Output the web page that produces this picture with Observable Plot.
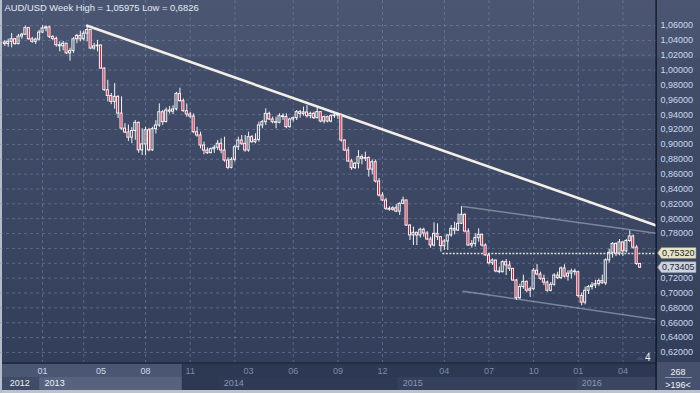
<!DOCTYPE html>
<html><head><meta charset="utf-8">
<script src="https://cdn.jsdelivr.net/npm/d3@7"></script>
<script src="https://cdn.jsdelivr.net/npm/@observablehq/plot@0.6"></script>
<style>
html,body{margin:0;padding:0;background:#3b4763;}
#chart svg{display:block}
</style></head><body><div id="chart"></div>
<script>
// ---- data (weekly AUD/USD candles, first week starting 2012-10-22) ----
const firstWeek = "2012-10-22";
const open  = [1.0371,1.0350,1.0380,1.0416,1.0350,1.0450,1.0475,1.0565,1.0415,1.0380,1.0410,1.0505,1.0560,1.0575,1.0447,1.0420,1.0335,1.0320,1.0355,1.0225,1.0255,1.0415,1.0460,1.0415,1.0490,1.0540,1.0290,1.0320,1.0330,1.0020,0.9729,0.9652,0.9572,0.9640,0.9415,0.9212,0.9160,0.9090,0.9180,0.9290,0.8920,0.9000,0.9190,0.8920,0.9205,0.9254,0.9433,0.9300,0.9456,0.9440,0.9470,0.9680,0.9582,0.9447,0.9402,0.9375,0.9164,0.9120,0.8985,0.8917,0.8882,0.8935,0.8954,0.9008,0.8917,0.8783,0.8684,0.8792,0.8962,0.9052,0.9008,0.8917,0.9097,0.9030,0.9060,0.9254,0.9299,0.9411,0.9335,0.9299,0.9290,0.9380,0.9368,0.9232,0.9335,0.9353,0.9434,0.9410,0.9430,0.9380,0.9411,0.9353,0.9434,0.9308,0.9367,0.9308,0.9380,0.9389,0.9398,0.9052,0.8918,0.8770,0.8680,0.8740,0.8828,0.8806,0.8818,0.8660,0.8760,0.8500,0.8312,0.8245,0.8133,0.8120,0.8140,0.8095,0.8200,0.8245,0.7908,0.7775,0.7810,0.7774,0.7850,0.7800,0.7720,0.7639,0.7796,0.7751,0.7630,0.7693,0.7774,0.7863,0.7840,0.7931,0.8052,0.7827,0.7639,0.7660,0.7738,0.7783,0.7639,0.7505,0.7400,0.7437,0.7290,0.7280,0.7415,0.7370,0.7325,0.7168,0.6930,0.7080,0.7150,0.7030,0.7050,0.7300,0.7250,0.7190,0.7140,0.7030,0.7110,0.7235,0.7200,0.7330,0.7220,0.7260,0.7290,0.7280,0.6960,0.6870,0.7030,0.7080,0.7100,0.7120,0.7160,0.7130,0.7440,0.7540,0.7660,0.7530,0.7680,0.7560,0.7700,0.7760,0.7610,0.7390];
const high  = [1.0398,1.0416,1.0492,1.0425,1.0480,1.0495,1.0590,1.0575,1.0440,1.0430,1.0535,1.0596,1.0595,1.0590,1.0460,1.0445,1.0380,1.0385,1.0360,1.0295,1.0435,1.0480,1.0525,1.0525,1.05975,1.0545,1.0360,1.0400,1.0340,1.0030,0.9863,0.9685,0.9818,0.9652,0.9640,0.9280,0.9260,0.9225,0.9320,0.9300,0.9210,0.9230,0.9215,0.9230,0.9320,0.9545,0.9455,0.9490,0.9510,0.9520,0.9700,0.9757,0.9610,0.9545,0.9432,0.9410,0.9231,0.9164,0.9030,0.8953,0.8953,0.8985,0.9052,0.9075,0.9097,0.8820,0.8820,0.8985,0.9097,0.9120,0.9120,0.9164,0.9120,0.9142,0.9299,0.9322,0.9479,0.9434,0.9367,0.9367,0.9411,0.9411,0.9411,0.9352,0.9367,0.9456,0.9456,0.9501,0.9523,0.9434,0.9434,0.9492,0.9440,0.9380,0.9380,0.9398,0.9411,0.9420,0.9400,0.9060,0.8960,0.8800,0.8760,0.8918,0.8860,0.8895,0.8830,0.8790,0.8790,0.8540,0.8350,0.8275,0.8160,0.8160,0.8190,0.8213,0.8290,0.8250,0.7920,0.7886,0.7818,0.7872,0.7872,0.7827,0.7751,0.7944,0.7930,0.7760,0.7720,0.7783,0.7908,0.7953,0.8065,0.8163,0.8065,0.7863,0.7706,0.7796,0.7863,0.7790,0.7661,0.7527,0.7460,0.7440,0.7348,0.7433,0.7451,0.7424,0.7330,0.7180,0.7120,0.7240,0.7160,0.7080,0.7330,0.7382,0.7280,0.7240,0.7160,0.7140,0.7260,0.7280,0.7350,0.7380,0.7300,0.7320,0.7320,0.7290,0.7000,0.7080,0.7100,0.7140,0.7170,0.7190,0.7240,0.7460,0.7590,0.7680,0.7675,0.7720,0.7690,0.7720,0.7836,0.7780,0.7640,0.7400];
const low   = [1.0317,1.0308,1.0300,1.0335,1.0340,1.0415,1.0470,1.0400,1.0360,1.0345,1.0390,1.0490,1.0515,1.0425,1.0395,1.0310,1.0245,1.0260,1.0210,1.0120,1.0225,1.0355,1.0380,1.0390,1.0380,1.0275,1.0268,1.0245,1.0010,0.9715,0.9572,0.9535,0.9473,0.9347,0.9190,0.9145,0.9040,0.9010,0.9055,0.8880,0.8850,0.8847,0.8900,0.8905,0.9140,0.9230,0.9255,0.9290,0.9410,0.9400,0.9450,0.9568,0.9433,0.9365,0.9344,0.9142,0.9097,0.8940,0.8860,0.8864,0.8873,0.8880,0.8918,0.8873,0.8760,0.8660,0.8670,0.8760,0.8918,0.8985,0.8895,0.8895,0.9016,0.9008,0.9030,0.9210,0.9254,0.9322,0.9277,0.9210,0.9277,0.9322,0.9210,0.9218,0.9300,0.9322,0.9353,0.9380,0.9353,0.9344,0.9335,0.9344,0.9290,0.9277,0.9290,0.9290,0.9350,0.9335,0.9030,0.8905,0.8760,0.8650,0.8660,0.8670,0.8725,0.8770,0.8560,0.8590,0.8480,0.8290,0.8230,0.8110,0.8100,0.8100,0.8080,0.8043,0.8190,0.7895,0.7706,0.7639,0.7639,0.7738,0.7751,0.7706,0.7603,0.7620,0.7706,0.7550,0.7572,0.7572,0.7751,0.7783,0.7827,0.7925,0.7810,0.7630,0.7603,0.7617,0.7684,0.7617,0.7497,0.7379,0.7370,0.7272,0.7258,0.7270,0.7235,0.7290,0.7155,0.6900,0.6910,0.7050,0.7000,0.6940,0.7040,0.7230,0.7170,0.7100,0.7010,0.7015,0.7090,0.7180,0.7180,0.7200,0.7160,0.7190,0.7230,0.6930,0.6826,0.6840,0.6980,0.7040,0.7060,0.7090,0.7120,0.7100,0.7400,0.7470,0.7490,0.7500,0.7490,0.7540,0.7680,0.7590,0.7370,0.7330];
const close = [1.0350,1.0380,1.0416,1.0350,1.0450,1.0475,1.0565,1.0415,1.0380,1.0410,1.0505,1.0560,1.0575,1.0447,1.0420,1.0335,1.0320,1.0355,1.0225,1.0255,1.0415,1.0460,1.0415,1.0490,1.0540,1.0290,1.0320,1.0330,1.0020,0.9729,0.9652,0.9572,0.9640,0.9415,0.9212,0.9160,0.9090,0.9180,0.9290,0.8920,0.9000,0.9190,0.8920,0.9205,0.9254,0.9433,0.9300,0.9456,0.9440,0.9470,0.9680,0.9582,0.9447,0.9402,0.9375,0.9164,0.9120,0.8985,0.8917,0.8882,0.8935,0.8954,0.9008,0.8917,0.8783,0.8684,0.8792,0.8962,0.9052,0.9008,0.8917,0.9097,0.9030,0.9060,0.9254,0.9299,0.9411,0.9335,0.9299,0.9290,0.9380,0.9368,0.9232,0.9335,0.9353,0.9434,0.9410,0.9430,0.9380,0.9411,0.9353,0.9434,0.9308,0.9367,0.9308,0.9380,0.9389,0.9398,0.9052,0.8918,0.8770,0.8680,0.8740,0.8828,0.8806,0.8818,0.8660,0.8760,0.8500,0.8312,0.8245,0.8133,0.8120,0.8140,0.8095,0.8200,0.8245,0.7908,0.7775,0.7810,0.7774,0.7850,0.7800,0.7720,0.7639,0.7796,0.7751,0.7630,0.7693,0.7774,0.7863,0.7840,0.7931,0.8052,0.7827,0.7639,0.7660,0.7738,0.7783,0.7639,0.7505,0.7400,0.7437,0.7290,0.7280,0.7415,0.7370,0.7325,0.7168,0.6930,0.7080,0.7150,0.7030,0.7050,0.7300,0.7250,0.7190,0.7140,0.7030,0.7110,0.7235,0.7200,0.7330,0.7220,0.7260,0.7290,0.7280,0.6960,0.6870,0.7030,0.7080,0.7100,0.7120,0.7160,0.7130,0.7440,0.7540,0.7660,0.7530,0.7680,0.7560,0.7700,0.7760,0.7610,0.7390,0.73405];

const priceTicks = [0.62,0.64,0.66,0.68,0.70,0.72,0.74,0.76,0.78,0.80,0.82,0.84,0.86,0.88,0.90,0.92,0.94,0.96,0.98,1.00,1.02,1.04,1.06];
const gridDates = ["2013-01-07","2013-04-01","2013-08-05","2013-11-04","2014-02-03","2014-06-02","2014-09-01","2014-12-01","2015-04-06","2015-07-06","2015-10-05","2016-01-04","2016-04-04"];
const monthBright = ["2013-01-07","2013-05-06","2013-08-05"];
const monthDim = ["2013-11-04","2014-03-03","2014-06-02","2014-09-01","2014-12-01","2015-04-06","2015-07-06","2015-10-05","2016-01-04","2016-04-04"];
const yearBright = ["2012-10-22","2013-01-01"];
const yearDim = ["2014-01-01","2015-01-01","2016-01-01"];
const titleText = "AUD/USD Week High = 1,05975 Low = 0,6826";

const trendDates = ["2013-04-08","2016-06-11"];
const trendPrices = [1.05975, 0.7908];
const channelDates = ["2015-05-14","2016-06-11"];
const channelUpper = [0.8164, 0.7802];
const channelLower = [0.7024, 0.6643];
const levelDates = ["2015-04-03","2016-06-11"];
const levelPrice = 0.75320;
const lastPrice = 0.73405;
const barCount = "268", barVisible = ">196<", cornerNote = "4";

// ---- build ----
const DAY = 864e5;
const t0 = Date.parse(firstWeek);
const weeks = close.map((c, i) => ({date: new Date(t0 + i * 7 * DAY), open: open[i], high: high[i], low: low[i], close: c}));
const D = s => new Date(s);
const xDomain = [new Date(t0 - 1.246 * 7 * DAY), new Date(t0 + 189.78 * 7 * DAY)];
const RED = "#e3143c", WHITE = "#f4f4f4";
const fmtP = d => d.toFixed(5).replace(".", ",");
// axis labels hidden under the two price tags are left out (they are covered in the original)
const labelTicks = priceTicks.filter(t => Math.abs(t - levelPrice) > 0.009 && Math.abs(t - lastPrice) > 0.009);
const trendRows = trendDates.map((d, i) => ({date: D(d), price: trendPrices[i]}));
const upRows = channelDates.map((d, i) => ({date: D(d), price: channelUpper[i]}));
const loRows = channelDates.map((d, i) => ({date: D(d), price: channelLower[i]}));

const chart = Plot.plot({
  width: 700, height: 393,
  marginLeft: 0, marginRight: 44, marginTop: 0, marginBottom: 31,
  x: {type: "utc", domain: xDomain, axis: null},
  y: {domain: [0.60644, 1.09365], axis: null},
  style: {background: "transparent", fontFamily: "'Liberation Sans', Arial, sans-serif", fontSize: "9px", color: "#cbd8ee"},
  marks: [
    Plot.gridY(priceTicks, {stroke: "#7c8aa8", strokeOpacity: 0.55, strokeDasharray: "3,3"}),
    Plot.gridX(gridDates.map(D), {stroke: "#7c8aa8", strokeOpacity: 0.55, strokeDasharray: "3,3"}),
    Plot.line(upRows, {x: "date", y: "price", stroke: "#b4bccc", strokeOpacity: 0.55, strokeWidth: 1.5, clip: true}),
    Plot.line(loRows, {x: "date", y: "price", stroke: "#b4bccc", strokeOpacity: 0.55, strokeWidth: 1.5, clip: true}),
    Plot.ruleY([levelPrice], {x1: D(levelDates[0]), x2: D(levelDates[1]), stroke: "#dcdcdc", strokeWidth: 1.6, strokeDasharray: "2,1.5", clip: true}),
    Plot.line(trendRows, {x: "date", y: "price", stroke: "#f3efe6", strokeWidth: 2.6, clip: true}),
    Plot.ruleX(weeks, {x: "date", y1: "high", y2: d => Math.max(d.open, d.close), stroke: WHITE, strokeWidth: 1}),
    Plot.ruleX(weeks, {x: "date", y1: "low", y2: d => Math.min(d.open, d.close), stroke: WHITE, strokeWidth: 1}),
    Plot.rect(weeks, {
      x1: d => new Date(+d.date - 2.1 * DAY), x2: d => new Date(+d.date + 2.1 * DAY),
      y1: "open", y2: d => (Math.abs(d.close - d.open) < 0.0008 ? d.open + (d.close >= d.open ? 0.0008 : -0.0008) : d.close),
      fill: d => d.close < d.open ? RED : "none", stroke: WHITE, strokeWidth: 1
    }),
    Plot.axisY(labelTicks, {anchor: "right", tickSize: 0, tickPadding: 4, tickFormat: fmtP, fill: "#cdd9ee", fontSize: 9}),
    Plot.axisX(monthBright.map(D), {anchor: "bottom", tickSize: 0, tickPadding: 5, tickFormat: "%m", fill: "#cdd9ee", fontSize: 9}),
    Plot.axisX(monthDim.map(D), {anchor: "bottom", tickSize: 0, tickPadding: 5, tickFormat: "%m", fill: "#7f8ba8", fontSize: 9}),
    Plot.axisX(yearBright.map(D), {anchor: "bottom", tickSize: 0, tickPadding: 17, tickFormat: "%Y", fill: "#eef2f8", fontSize: 9, textAnchor: "start", dx: 5}),
    Plot.axisX(yearDim.map(D), {anchor: "bottom", tickSize: 0, tickPadding: 17, tickFormat: "%Y", fill: "#8a96b2", fontSize: 9, textAnchor: "start", dx: 5}),
    Plot.text([titleText], {frameAnchor: "top-left", dx: 4, dy: 4, text: d => d, fill: "#e2e9f6", fontSize: 9.4, textAnchor: "start", lineAnchor: "top"})
  ]
});
document.getElementById("chart").append(chart);

// ---- decorations ----
const svg = d3.select(chart);
const xs = chart.scale("x"), ys = chart.scale("y");
const bg = svg.insert("g", ":first-child");
const defs = svg.insert("defs", ":first-child");
const g = defs.append("linearGradient").attr("id", "bgGrad").attr("x1", 0).attr("y1", 0).attr("x2", 0).attr("y2", 1);
[[0, "#4b5772"], [0.155, "#47536e"], [0.165, "#414d69"], [0.55, "#3b4763"], [1, "#323e5a"]].forEach(([o, c]) => g.append("stop").attr("offset", o).attr("stop-color", c));
bg.append("rect").attr("x", 0).attr("y", 0).attr("width", 700).attr("height", 362).attr("fill", "url(#bgGrad)");
// bottom strip
const xa = d => xs.apply(D(d));
const cut = xa("2013-10-21");
bg.append("rect").attr("x", 0).attr("y", 362).attr("width", 656).attr("height", 2).attr("fill", "#242d42");
bg.append("rect").attr("x", 0).attr("y", 364).attr("width", 656).attr("height", 26).attr("fill", "#2d3853");
bg.append("rect").attr("x", 0).attr("y", 364).attr("width", cut).attr("height", 13).attr("fill", "#4a5672");
bg.append("rect").attr("x", 0).attr("y", 377).attr("width", xa("2013-01-01")).attr("height", 13).attr("fill", "#3f4b67");
bg.append("rect").attr("x", xa("2013-01-01")).attr("y", 377).attr("width", cut - xa("2013-01-01")).attr("height", 13).attr("fill", "#56627e");
bg.append("rect").attr("x", xa("2014-01-01")).attr("y", 377).attr("width", xa("2015-01-01") - xa("2014-01-01")).attr("height", 13).attr("fill", "#2f3a56");
bg.append("rect").attr("x", xa("2015-01-01")).attr("y", 377).attr("width", xa("2016-01-01") - xa("2015-01-01")).attr("height", 13).attr("fill", "#34405c");
bg.append("rect").attr("x", xa("2016-01-01")).attr("y", 377).attr("width", 656 - xa("2016-01-01")).attr("height", 13).attr("fill", "#3a4662");
bg.append("rect").attr("x", cut - 1).attr("y", 364).attr("width", 1).attr("height", 26).attr("fill", "#252e44");
bg.append("rect").attr("x", 656).attr("y", 362).attr("width", 44).attr("height", 28).attr("fill", "#45516d");
bg.append("rect").attr("x", 0).attr("y", 390).attr("width", 700).attr("height", 3).attr("fill", "#bcc3cf");
bg.append("rect").attr("x", 0).attr("y", 0).attr("width", 2).attr("height", 393).attr("fill", "#b6bdca");

// foreground
const fg = svg.append("g").attr("text-anchor", "start");
fg.append("rect").attr("x", 655.5).attr("y", 0).attr("width", 1.2).attr("height", 390).attr("fill", "#0b0f18");
fg.append("text").attr("x", 678).attr("y", 375).attr("text-anchor", "middle").attr("fill", "#f2f4f8").attr("font-size", 9).text(barCount);
fg.append("rect").attr("x", 665).attr("y", 377).attr("width", 27).attr("height", 0.8).attr("fill", "#9aa6bf");
fg.append("text").attr("x", 678).attr("y", 387.5).attr("text-anchor", "middle").attr("fill", "#f2f4f8").attr("font-size", 9).text(barVisible);
fg.append("path").attr("d", "M636,360 L640,356 L644,360 Z").attr("fill", "#4e4766");
fg.append("text").attr("x", 645).attr("y", 361).attr("text-anchor", "start").attr("fill", "#f2f4f8").attr("font-size", 10).text(cornerNote);
function priceTag(p, fill) {
  const y = ys.apply(p);
  fg.append("path").attr("d", `M657.5,${y} L661.5,${y - 5.5} L696,${y - 5.5} L696,${y + 5.5} L661.5,${y + 5.5} Z`).attr("fill", fill).attr("stroke", "#7d8494").attr("stroke-width", 0.6);
  fg.append("text").attr("x", 662).attr("y", y + 3.2).attr("text-anchor", "start").attr("fill", "#20242c").attr("font-size", 9).text(fmtP(p));
}
priceTag(levelPrice, "#e7e4c6");
priceTag(lastPrice, "#cdd4e0");
</script></body></html>
